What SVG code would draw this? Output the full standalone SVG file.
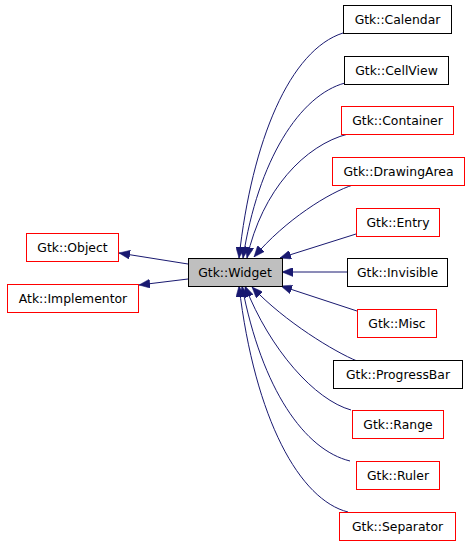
<svg xmlns="http://www.w3.org/2000/svg" width="469" height="544" viewBox="0 0 469 544">
<style>
  .n rect { fill: #ffffff; stroke-width: 1; }
  .red rect { stroke: #ff0000; }
  .blk rect { stroke: #000000; }
  .cur rect { fill: #bfbfbf; stroke: #000000; }
  text { font-family: "DejaVu Sans", "Liberation Sans", sans-serif; font-size: 12.4px; fill: #000000; text-anchor: middle; }
  .e path { fill: none; stroke: #191970; stroke-width: 1; }
</style>
<defs>
  <marker id="ah" viewBox="0 0 11 9" refX="11" refY="4.5" markerWidth="11" markerHeight="9" markerUnits="userSpaceOnUse" orient="auto">
    <path d="M0,0 L11,4.5 L0,9 z" fill="#191970" stroke="#191970" stroke-width="0.5"/>
  </marker>
</defs>
<g id="edges" class="e">
  <path d="M188,264 L119,253" marker-end="url(#ah)"/>
  <path d="M188,279 L139,285" marker-end="url(#ah)"/>
  <path d="M343,33 C290,50 252,140 239,258" marker-end="url(#ah)"/>
  <path d="M345,83 C300,95 258,160 243,258" marker-end="url(#ah)"/>
  <path d="M348,134 C305,145 262,190 247,258" marker-end="url(#ah)"/>
  <path d="M353,185 C330,192 285,220 254,257" marker-end="url(#ah)"/>
  <path d="M356,234 L280,258" marker-end="url(#ah)"/>
  <path d="M347,272 L282,272" marker-end="url(#ah)"/>
  <path d="M357,311 L281,286" marker-end="url(#ah)"/>
  <path d="M357,361 C335,352 285,322 252,287" marker-end="url(#ah)"/>
  <path d="M351,410 C315,400 270,350 245,286" marker-end="url(#ah)"/>
  <path d="M350,461 C305,450 262,390 242,286" marker-end="url(#ah)"/>
  <path d="M348,512 C300,500 255,420 239,286" marker-end="url(#ah)"/>
</g>
<g id="widget" class="n cur"><rect x="188.5" y="258.5" width="94" height="28"/><text x="235" y="276.5">Gtk::Widget</text></g>
<g id="object" class="n red"><rect x="26.5" y="233.5" width="92" height="28"/><text x="72.5" y="251.5">Gtk::Object</text></g>
<g id="implementor" class="n red"><rect x="7.5" y="284.5" width="131" height="28"/><text x="73" y="302.5">Atk::Implementor</text></g>
<g id="calendar" class="n blk"><rect x="343.5" y="5.5" width="108" height="28"/><text x="397.5" y="23.5">Gtk::Calendar</text></g>
<g id="cellview" class="n blk"><rect x="344.5" y="56.5" width="104" height="28"/><text x="396.5" y="74.5">Gtk::CellView</text></g>
<g id="container" class="n red"><rect x="341.5" y="106.5" width="112" height="28"/><text x="397.5" y="124.5">Gtk::Container</text></g>
<g id="drawingarea" class="n red"><rect x="332.5" y="157.5" width="132" height="28"/><text x="398.5" y="175.5">Gtk::DrawingArea</text></g>
<g id="entry" class="n red"><rect x="356.5" y="208.5" width="83" height="28"/><text x="398" y="226.5">Gtk::Entry</text></g>
<g id="invisible" class="n blk"><rect x="347.5" y="258.5" width="100" height="28"/><text x="397.5" y="276.5">Gtk::Invisible</text></g>
<g id="misc" class="n red"><rect x="357.5" y="309.5" width="79" height="28"/><text x="397" y="327.5">Gtk::Misc</text></g>
<g id="progressbar" class="n blk"><rect x="333.5" y="360.5" width="129" height="28"/><text x="398" y="378.5">Gtk::ProgressBar</text></g>
<g id="range" class="n red"><rect x="352.5" y="410.5" width="91" height="28"/><text x="398" y="428.5">Gtk::Range</text></g>
<g id="ruler" class="n red"><rect x="356.5" y="461.5" width="83" height="28"/><text x="398" y="479.5">Gtk::Ruler</text></g>
<g id="separator" class="n red"><rect x="339.5" y="512.5" width="116" height="28"/><text x="397.5" y="530.5">Gtk::Separator</text></g>
</svg>
